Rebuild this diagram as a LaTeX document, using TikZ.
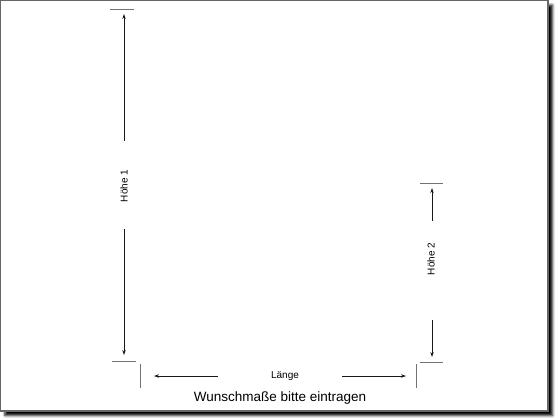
\documentclass[tikz,border=0pt]{standalone}
\usepackage{fontspec}
\setmainfont{Liberation Sans}
\usetikzlibrary{positioning,arrows.meta,shadows.blur}

\begin{document}
\begin{tikzpicture}[x=1pt, y=-1pt,
  dimline/.style={black!90, line width=0.9pt, -{Stealth[length=5pt,width=3.4pt]}},
  tickline/.style={black!55, line width=0.8pt},
  dimlabel/.style={font=\fontsize{10}{11}\selectfont, inner sep=0pt}]

  \useasboundingbox (0,0) rectangle (560,420);

  % Frame with shadow
  \draw[black!60, line width=1.2pt, fill=white,
    blur shadow={shadow xshift=4.5pt, shadow yshift=-4.5pt, shadow blur radius=2.5pt, shadow opacity=100}]
    (0.5,0.5) rectangle (548,411);

  % Define nodes
  \node[dimlabel, rotate=90] (Hoehe1) at (124,186) {Höhe 1};
  \node[dimlabel, rotate=90] (Hoehe2) at (431,259) {Höhe 2};
  \node[dimlabel] (Laenge) at (285,376) {Länge};
  \node[font=\fontsize{13.5}{15}\selectfont, inner sep=0pt] (Hint) at (280,398) {Wunschmaße bitte eintragen};

  % Define coordinates
  \coordinate (H1tickL) at (110,9);   \coordinate (H1tickR) at (134,9);
  \coordinate (H1baseL) at (112,361); \coordinate (H1baseR) at (136,361);
  \coordinate (H2tickL) at (420,183); \coordinate (H2tickR) at (443,183);
  \coordinate (H2baseL) at (420,362); \coordinate (H2baseR) at (443,362);
  \coordinate (LtickAt) at (140,364); \coordinate (LtickAb) at (140,388);
  \coordinate (LtickBt) at (416,364); \coordinate (LtickBb) at (416,388);

  \coordinate (H1upStart) at (124,141); \coordinate (H1upEnd) at (124,14);
  \coordinate (H1dnStart) at (124,229); \coordinate (H1dnEnd) at (124,355);
  \coordinate (H2upStart) at (432,221); \coordinate (H2upEnd) at (432,188);
  \coordinate (H2dnStart) at (432,320); \coordinate (H2dnEnd) at (432,357);
  \coordinate (LleftStart) at (218,376); \coordinate (LleftEnd) at (154,376);
  \coordinate (LrightStart) at (342,376); \coordinate (LrightEnd) at (406,376);

  % Ticks
  \draw[tickline] (H1tickL) -- (H1tickR);
  \draw[tickline] (H1baseL) -- (H1baseR);
  \draw[tickline] (H2tickL) -- (H2tickR);
  \draw[tickline] (H2baseL) -- (H2baseR);
  \draw[tickline] (LtickAt) -- (LtickAb);
  \draw[tickline] (LtickBt) -- (LtickBb);

  % Connect the arrows
  \draw[dimline] (H1upStart) -- (H1upEnd);
  \draw[dimline] (H1dnStart) -- (H1dnEnd);
  \draw[dimline] (H2upStart) -- (H2upEnd);
  \draw[dimline] (H2dnStart) -- (H2dnEnd);
  \draw[dimline] (LleftStart) -- (LleftEnd);
  \draw[dimline] (LrightStart) -- (LrightEnd);

\end{tikzpicture}
\end{document}
